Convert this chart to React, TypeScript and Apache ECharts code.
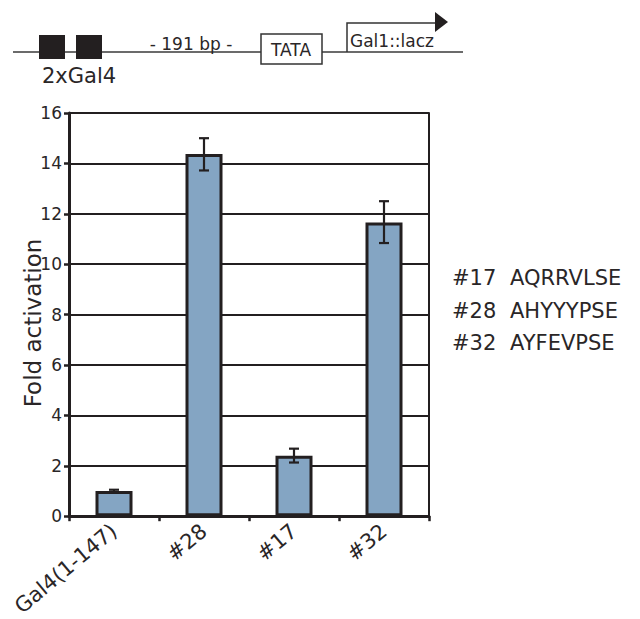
import React, { useEffect, useRef } from "react";
import * as echarts from "echarts";

const categories = ["Gal4(1-147)", "#28", "#17", "#32"];
const values = [1.0, 14.37, 2.4, 11.65];
const errLow = [0.95, 13.72, 2.13, 10.84];
const errHigh = [1.05, 15.0, 2.68, 12.5];
const yMin = 0;
const yMax = 16;
const yInterval = 2;
const yTitle = "Fold activation";
const sequences = [
  ["#17", "AQRRVLSE"],
  ["#28", "AHYYYPSE"],
  ["#32", "AYFEVPSE"],
];

const FONT = "DejaVu Sans";
const INK = "#231f20";
const TXT = "#2a2627";

export default function App() {
  const ref = useRef<HTMLDivElement>(null);
  useEffect(() => {
    document.body.style.margin = "0";
    const chart = echarts.init(ref.current!, null, { renderer: "svg" });
    const option: any = {
      animation: false,
      backgroundColor: "#ffffff",
      textStyle: { fontFamily: FONT },
      grid: { left: 69, top: 113, right: 211, bottom: 100, containLabel: false },
      xAxis: {
        type: "category",
        data: categories,
        axisLine: { lineStyle: { color: INK, width: 3 } },
        axisTick: { show: true, length: 5, lineStyle: { color: INK, width: 2.5 } },
        axisLabel: {
          rotate: 40,
          fontSize: 21,
          color: TXT,
          fontFamily: FONT,
          margin: 12,
        },
        splitLine: { show: false },
      },
      yAxis: [
        {
          type: "value",
          min: yMin,
          max: yMax,
          interval: yInterval,
          axisLine: { show: true, lineStyle: { color: INK, width: 3 } },
          axisTick: { show: true, length: 5, lineStyle: { color: INK, width: 2.5 } },
          axisLabel: { fontSize: 17, color: TXT, margin: 7, fontFamily: FONT },
          splitLine: { show: true, lineStyle: { color: INK, width: 2 } },
        },
        {
          type: "value",
          min: yMin,
          max: yMax,
          interval: yInterval,
          position: "right",
          axisLine: { show: true, lineStyle: { color: INK, width: 2 } },
          axisTick: { show: false },
          axisLabel: { show: false },
          splitLine: { show: false },
        },
      ],
      series: [
        {
          type: "bar",
          data: values,
          barWidth: 37,
          itemStyle: { color: "#84a5c3", borderColor: INK, borderWidth: 3 },
          z: 2,
        },
        {
          type: "custom",
          z: 5,
          data: categories.map((_, i) => [i, errLow[i], errHigh[i]]),
          renderItem: (params: any, api: any) => {
            const x = api.value(0);
            const lo = api.coord([x, api.value(1)]);
            const hi = api.coord([x, api.value(2)]);
            const hw = 5;
            const style = { stroke: INK, lineWidth: 2.2 };
            return {
              type: "group",
              children: [
                { type: "line", shape: { x1: lo[0], y1: lo[1], x2: hi[0], y2: hi[1] }, style },
                { type: "line", shape: { x1: hi[0] - hw, y1: hi[1], x2: hi[0] + hw, y2: hi[1] }, style },
                { type: "line", shape: { x1: lo[0] - hw, y1: lo[1], x2: lo[0] + hw, y2: lo[1] }, style },
              ],
            };
          },
        },
      ],
      graphic: [
        {
          type: "text",
          x: 33,
          y: 323,
          rotation: Math.PI / 2,
          style: { text: yTitle, fontSize: 23, fontFamily: FONT, fill: TXT, textAlign: "center", textVerticalAlign: "middle" },
        },
        { type: "line", shape: { x1: 13, y1: 52, x2: 463, y2: 52 }, style: { stroke: "#3a3a3a", lineWidth: 1.5 } },
        { type: "rect", shape: { x: 39, y: 35, width: 26, height: 24 }, style: { fill: INK } },
        { type: "rect", shape: { x: 76, y: 35, width: 26, height: 24 }, style: { fill: INK } },
        {
          type: "text",
          x: 42,
          y: 76,
          style: { text: "2xGal4", fontSize: 21, fontFamily: FONT, fill: TXT, textVerticalAlign: "middle" },
        },
        {
          type: "text",
          x: 191,
          y: 44,
          style: { text: "- 191 bp -", fontSize: 17, fontFamily: FONT, fill: TXT, textAlign: "center", textVerticalAlign: "middle" },
        },
        { type: "rect", shape: { x: 261, y: 34, width: 61, height: 30 }, style: { fill: "#fff", stroke: "#333", lineWidth: 1.5 } },
        {
          type: "text",
          x: 291,
          y: 50,
          style: { text: "TATA", fontSize: 17, fontFamily: FONT, fill: TXT, textAlign: "center", textVerticalAlign: "middle" },
        },
        { type: "polyline", shape: { points: [[347, 52], [347, 23], [437, 23]] }, style: { stroke: "#333", lineWidth: 1.5, fill: null } },
        { type: "polygon", shape: { points: [[435, 12], [448, 22], [435, 32]] }, style: { fill: INK } },
        {
          type: "text",
          x: 350,
          y: 41,
          style: { text: "Gal1::lacz", fontSize: 17, fontFamily: FONT, fill: TXT, textVerticalAlign: "middle" },
        },
        ...sequences.flatMap((s, i) => [
          {
            type: "text",
            x: 452,
            y: 278 + i * 32.5,
            style: { text: s[0], fontSize: 21, fontFamily: FONT, fill: TXT, textVerticalAlign: "middle" },
          },
          {
            type: "text",
            x: 510,
            y: 278 + i * 32.5,
            style: { text: s[1], fontSize: 21, fontFamily: FONT, fill: TXT, textVerticalAlign: "middle" },
          },
        ]),
      ],
    };
    chart.setOption(option);
    return () => chart.dispose();
  }, []);
  return <div ref={ref} style={{ width: 640, height: 619 }} />;
}
